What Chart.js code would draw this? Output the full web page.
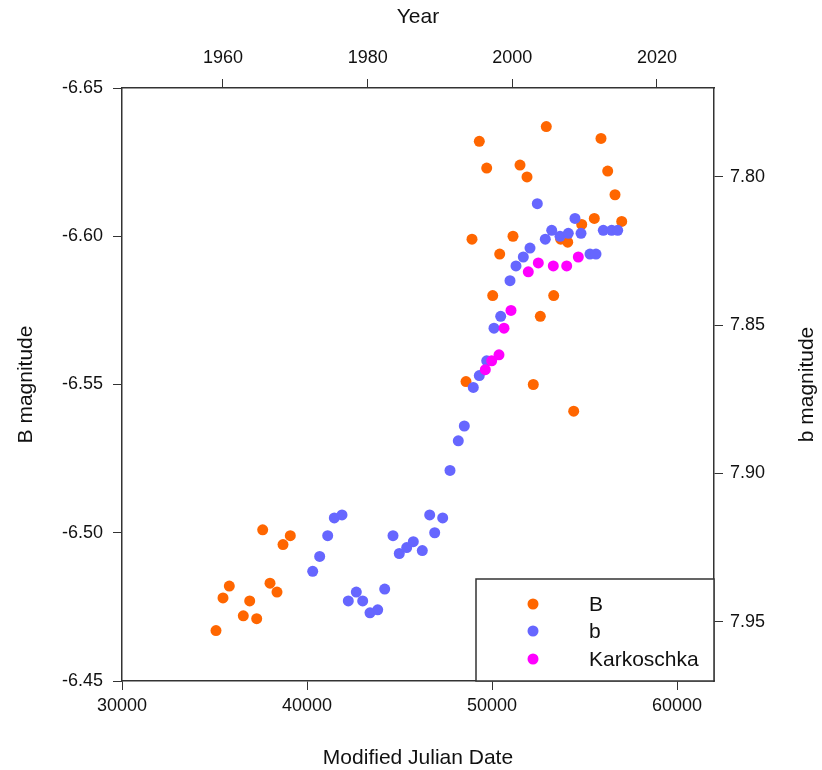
<!DOCTYPE html>
<html>
<head>
<meta charset="utf-8">
<script src="https://cdn.jsdelivr.net/npm/chart.js@4"></script>
<style>
  html, body { margin: 0; padding: 0; background: #fff; }
</style>
</head>
<body>
<canvas id="chart" width="822" height="770"></canvas>
<script>
// B magnitude series (orange), left axis
const B_MJD = [35081, 35459, 35800, 36557, 36903, 37281, 37605, 38000, 38378, 38703, 39097,
  48595, 48919, 49314, 49714, 50038, 50416, 51135, 51514, 51892, 52232, 52611, 52935,
  53335, 53713, 54092, 54416, 54849, 55530, 55892, 56254, 56649, 57011];
const B_MAG = [-6.467, -6.478, -6.482, -6.472, -6.477, -6.471, -6.501, -6.483, -6.480, -6.496, -6.499,
  -6.551, -6.599, -6.632, -6.623, -6.580, -6.594, -6.600, -6.624, -6.620, -6.550, -6.573, -6.637,
  -6.580, -6.599, -6.598, -6.541, -6.604, -6.606, -6.633, -6.622, -6.614, -6.605];

// b magnitude series (blue), right axis
const b_MJD = [40308, 40686, 41119, 41476, 41892, 42232, 42665, 43011, 43405, 43822, 44200,
  44649, 44989, 45389, 45746, 46232, 46632, 46903, 47335, 47730, 48178, 48503, 48989, 49314,
  49714, 50108, 50470, 50973, 51297, 51692, 52054, 52449, 52881, 53227, 53676, 54124, 54486,
  54811, 55297, 55622, 56016, 56470, 56795];
const b_MAG = [7.933, 7.928, 7.921, 7.915, 7.914, 7.943, 7.940, 7.943, 7.947, 7.946, 7.939,
  7.921, 7.927, 7.925, 7.923, 7.926, 7.914, 7.920, 7.915, 7.899, 7.889, 7.884, 7.871, 7.867,
  7.862, 7.851, 7.847, 7.835, 7.830, 7.827, 7.824, 7.809, 7.821, 7.818, 7.820, 7.819, 7.814,
  7.819, 7.826, 7.826, 7.818, 7.818, 7.818];

// Karkoschka (magenta), right axis
const K_MJD = [49638, 49984, 50378, 50649, 51027, 51962, 52503, 53313, 54038, 54665];
const K_MAG = [7.865, 7.862, 7.860, 7.851, 7.845, 7.832, 7.829, 7.830, 7.830, 7.827];

// tick labels
const MJD_TICKS = [30000, 40000, 50000, 60000];
const YEAR_TICKS = [1960, 1980, 2000, 2020];
const B_TICKS = [-6.65, -6.60, -6.55, -6.50, -6.45];
const b_TICKS = [7.80, 7.85, 7.90, 7.95];

const toPoints = (xs, ys) => xs.map((x, i) => ({ x: x, y: ys[i] }));

const FAMILY = "'Liberation Sans', Arial, sans-serif";
const tickFont = { family: FAMILY, size: 18 };
const titleFont = { family: FAMILY, size: 21 };
const axisColor = "#333";
const textColor = "#111";

function fixedTicks(values) {
  return (scale) => {
    scale.ticks = values.map((v) => ({ value: v }));
  };
}

function axisGrid() {
  return {
    drawOnChartArea: false,
    drawTicks: true,
    tickLength: 9,
    tickWidth: 1,
    tickColor: axisColor,
  };
}

// legend box in the lower right corner of the plot, plus the right axis title
// (drawn by hand so it reads bottom-to-top like the left one)
const cornerLegend = {
  id: "cornerLegend",
  afterDraw(chart) {
    const { ctx, chartArea } = chart;
    const w = 238, h = 102;
    const left = chartArea.right - w;
    const top = chartArea.bottom - h;
    ctx.save();
    ctx.fillStyle = "#fff";
    ctx.fillRect(left, top, w, h);
    ctx.strokeStyle = axisColor;
    ctx.lineWidth = 1.5;
    ctx.strokeRect(left, top, w, h);
    const rows = [25, 52, 80];
    chart.data.datasets.forEach((ds, i) => {
      ctx.beginPath();
      ctx.arc(left + 57, top + rows[i], 5.5, 0, Math.PI * 2);
      ctx.fillStyle = ds.backgroundColor;
      ctx.fill();
      ctx.fillStyle = textColor;
      ctx.font = "21px " + FAMILY;
      ctx.textBaseline = "middle";
      ctx.fillText(ds.label, left + 113, top + rows[i] + 1);
    });

    ctx.translate(chart.width - 15, (chartArea.top + chartArea.bottom) / 2);
    ctx.rotate(-Math.PI / 2);
    ctx.font = "21px " + FAMILY;
    ctx.textAlign = "center";
    ctx.textBaseline = "middle";
    ctx.fillStyle = textColor;
    ctx.fillText("b magnitude", 0, 0);
    ctx.restore();
  },
};

new Chart(document.getElementById("chart"), {
  type: "scatter",
  data: {
    datasets: [
      {
        label: "B",
        data: toPoints(B_MJD, B_MAG),
        backgroundColor: "#ff6600",
        borderWidth: 0,
        pointRadius: 5.5,
        xAxisID: "x",
        yAxisID: "y",
        order: 2,
      },
      {
        label: "b",
        data: toPoints(b_MJD, b_MAG),
        backgroundColor: "#6666ff",
        borderWidth: 0,
        pointRadius: 5.5,
        xAxisID: "x",
        yAxisID: "y2",
        order: 1,
      },
      {
        label: "Karkoschka",
        data: toPoints(K_MJD, K_MAG),
        backgroundColor: "#ff00ff",
        borderWidth: 0,
        pointRadius: 5.5,
        xAxisID: "x",
        yAxisID: "y2",
        order: 0,
      },
    ],
  },
  options: {
    responsive: false,
    animation: false,
    plugins: {
      legend: { display: false },
      tooltip: { enabled: false },
    },
    scales: {
      x: {
        type: "linear",
        position: "bottom",
        min: 30000,
        max: 62000,
        afterBuildTicks: fixedTicks(MJD_TICKS),
        afterFit: (scale) => { scale.height = 89; },
        grid: axisGrid(),
        border: { display: true, color: axisColor, width: 1.5 },
        ticks: { font: tickFont, color: textColor, padding: 5, maxRotation: 0, callback: (v) => String(v) },
        title: { display: true, text: "Modified Julian Date", font: titleFont, color: textColor, padding: { bottom: -1 } },
      },
      x2: {
        type: "linear",
        position: "top",
        display: true,
        min: 1946.04,
        max: 2027.88,
        afterBuildTicks: fixedTicks(YEAR_TICKS),
        afterFit: (scale) => { scale.height = 88; },
        grid: axisGrid(),
        border: { display: true, color: axisColor, width: 1.5 },
        ticks: { font: tickFont, color: textColor, padding: 10, maxRotation: 0, callback: (v) => String(v) },
        title: { display: true, text: "Year", font: titleFont, color: textColor, padding: { top: 5 } },
      },
      y: {
        type: "linear",
        position: "left",
        reverse: true,
        min: -6.65,
        max: -6.45,
        afterBuildTicks: fixedTicks(B_TICKS),
        afterFit: (scale) => { scale.width = 122; },
        grid: axisGrid(),
        border: { display: true, color: axisColor, width: 1.5 },
        ticks: { font: tickFont, color: textColor, padding: 10, callback: (v) => v.toFixed(2) },
        title: { display: true, text: "B magnitude", font: titleFont, color: textColor, padding: { top: 14 } },
      },
      y2: {
        type: "linear",
        position: "right",
        reverse: true,
        min: 7.77,
        max: 7.97,
        afterBuildTicks: fixedTicks(b_TICKS),
        afterFit: (scale) => { scale.width = 108; },
        grid: axisGrid(),
        border: { display: true, color: axisColor, width: 1.5 },
        ticks: { font: tickFont, color: textColor, padding: 7, callback: (v) => v.toFixed(2) },
        title: { display: false },
      },
    },
  },
  plugins: [cornerLegend],
});
</script>
</body>
</html>
